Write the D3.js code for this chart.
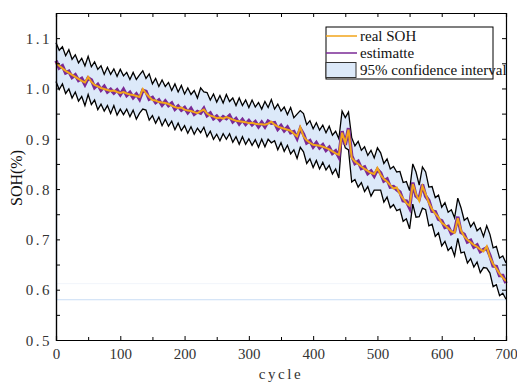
<!DOCTYPE html>
<html><head><meta charset="utf-8">
<script src="https://cdn.jsdelivr.net/npm/d3@7/dist/d3.min.js"></script>
<style>body{margin:0;background:#fff}svg{display:block}</style>
</head><body><svg id="c" width="517" height="383"></svg>
<script>
const cycles = d3.range(0, 701, 5);
const realSOH = [1.051,1.045,1.040,1.035,1.031,1.027,1.023,1.019,1.015,1.012,1.023,1.013,1.007,1.004,1.001,0.999,0.997,0.995,0.996,0.993,
0.991,0.993,0.990,0.988,0.987,0.985,0.983,0.999,0.990,0.983,0.977,0.976,0.973,0.972,0.971,0.969,0.966,0.963,0.961,0.962,
0.958,0.956,0.955,0.953,0.951,0.955,0.958,0.950,0.946,0.944,0.941,0.942,0.940,0.943,0.941,0.938,0.936,0.935,0.934,0.933,
0.931,0.932,0.930,0.929,0.929,0.928,0.930,0.934,0.928,0.924,0.922,0.920,0.918,0.916,0.910,0.905,0.923,0.905,0.897,0.892,
0.888,0.887,0.886,0.884,0.882,0.879,0.875,0.871,0.868,0.912,0.892,0.918,0.862,0.855,0.850,0.845,0.840,0.836,0.832,0.830,
0.842,0.828,0.820,0.815,0.808,0.801,0.803,0.790,0.781,0.772,0.767,0.810,0.790,0.777,0.806,0.790,0.773,0.760,0.751,0.744,
0.733,0.728,0.722,0.716,0.713,0.742,0.718,0.706,0.699,0.694,0.689,0.685,0.680,0.676,0.686,0.664,0.651,0.642,0.632,0.624,0.617];
const estimate = [1.055,1.041,1.045,1.031,1.034,1.022,1.027,1.016,1.020,1.008,1.021,1.017,1.002,1.008,0.997,1.004,0.993,0.998,0.991,0.997,
0.988,0.998,0.986,0.992,0.982,0.989,0.979,0.996,0.994,0.979,0.982,0.972,0.977,0.967,0.975,0.966,0.971,0.959,0.965,0.957,
0.962,0.952,0.960,0.949,0.954,0.951,0.960,0.946,0.951,0.940,0.945,0.937,0.944,0.940,0.946,0.934,0.940,0.930,0.938,0.929,
0.936,0.928,0.934,0.924,0.933,0.924,0.935,0.931,0.932,0.919,0.926,0.916,0.923,0.912,0.914,0.901,0.920,0.909,0.892,0.896,
0.884,0.892,0.882,0.888,0.877,0.883,0.871,0.876,0.864,0.915,0.888,0.921,0.866,0.851,0.855,0.841,0.844,0.831,0.836,0.826,
0.839,0.832,0.816,0.820,0.804,0.805,0.799,0.794,0.777,0.776,0.763,0.813,0.786,0.781,0.809,0.786,0.777,0.756,0.755,0.740,
0.737,0.724,0.726,0.712,0.716,0.745,0.714,0.710,0.695,0.698,0.685,0.689,0.676,0.680,0.683,0.668,0.647,0.646,0.628,0.628,0.613];
const upper = [1.091,1.076,1.083,1.065,1.077,1.058,1.067,1.051,1.060,1.045,1.064,1.043,1.053,1.038,1.045,1.028,1.042,1.028,1.039,1.024,
1.038,1.025,1.032,1.018,1.032,1.018,1.027,1.035,1.020,1.029,1.009,1.020,1.004,1.017,1.004,1.012,0.996,1.009,0.993,1.006,
0.989,1.001,0.988,0.996,0.981,1.001,0.993,0.992,0.977,0.989,0.973,0.986,0.971,0.988,0.974,0.981,0.966,0.981,0.966,0.977,
0.962,0.977,0.963,0.972,0.959,0.974,0.962,0.978,0.959,0.969,0.955,0.963,0.948,0.962,0.942,0.949,0.956,0.950,0.928,0.936,
0.920,0.932,0.917,0.927,0.912,0.925,0.907,0.915,0.900,0.955,0.942,0.953,0.902,0.886,0.895,0.877,0.884,0.867,0.877,0.862,
0.882,0.872,0.851,0.860,0.840,0.845,0.834,0.835,0.813,0.815,0.797,0.850,0.834,0.808,0.844,0.834,0.804,0.805,0.783,0.788,
0.764,0.773,0.754,0.759,0.743,0.782,0.763,0.738,0.743,0.725,0.734,0.717,0.723,0.706,0.727,0.710,0.683,0.686,0.663,0.667,0.653];
const lower = [1.014,0.998,1.009,0.990,0.999,0.981,0.993,0.975,0.984,0.966,0.988,0.968,0.977,0.958,0.969,0.955,0.966,0.950,0.966,0.947,
0.959,0.948,0.959,0.944,0.957,0.939,0.951,0.959,0.957,0.937,0.946,0.931,0.943,0.926,0.939,0.925,0.935,0.918,0.931,0.916,
0.926,0.911,0.924,0.909,0.921,0.912,0.923,0.904,0.915,0.899,0.909,0.896,0.910,0.899,0.910,0.893,0.904,0.889,0.904,0.889,
0.900,0.887,0.898,0.883,0.899,0.884,0.899,0.892,0.896,0.878,0.892,0.875,0.887,0.870,0.878,0.861,0.883,0.874,0.851,0.860,
0.843,0.857,0.840,0.853,0.838,0.847,0.830,0.840,0.822,0.905,0.882,0.878,0.814,0.819,0.804,0.813,0.795,0.805,0.786,0.798,
0.798,0.798,0.774,0.784,0.763,0.769,0.757,0.760,0.736,0.741,0.721,0.770,0.744,0.745,0.762,0.759,0.727,0.730,0.706,0.713,
0.687,0.696,0.678,0.685,0.667,0.702,0.673,0.675,0.653,0.662,0.645,0.655,0.634,0.644,0.643,0.633,0.606,0.610,0.588,0.593,0.581];
const xTicks = [0,100,200,300,400,500,600,700];
const yTicks = [0.5,0.6,0.7,0.8,0.9,1.0,1.1];
const yTickLabels = ["0.5","0.6","0.7","0.8","0.9","1.0","1.1"];
const bandEdgeLevels = [0.58, 0.612];
const legendLabels = ["real SOH","estimatte","95% confidence interval"];

const svg = d3.select("#c");
const x = d3.scaleLinear().domain([0,700]).range([56,506]);
const y = d3.scaleLinear().domain([0.5,1.15]).range([340,13]);
const ORANGE = "#f2a51a", PURPLE = "#7a2a96", BAND = "#dce9f9";

const pts = cycles.map((c,i)=>({c, r:realSOH[i], e:estimate[i], u:upper[i], l:lower[i]}));

svg.append("path").datum(pts)
  .attr("d", d3.area().x(d=>x(d.c)).y0(d=>y(d.l)).y1(d=>y(d.u)))
  .attr("fill", BAND);
svg.selectAll(".edge").data(bandEdgeLevels).enter().append("line")
  .attr("x1", x(0)).attr("x2", x(700)).attr("y1", d=>y(d)).attr("y2", d=>y(d))
  .attr("stroke", (d,i)=> i===0 ? "#c9ddf5" : "#f1f5fb").attr("stroke-width", 1);
svg.append("line").attr("x1", x(0)+0.5).attr("x2", x(0)+0.5)
  .attr("y1", y(bandEdgeLevels[0])).attr("y2", y(upper[0]))
  .attr("stroke", "#c3d4ea").attr("stroke-width", 1.5);

const line = k => d3.line().x(d=>x(d.c)).y(d=>y(d[k]));
svg.append("path").datum(pts).attr("d", line("u")).attr("fill","none").attr("stroke","#000").attr("stroke-width",1.3);
svg.append("path").datum(pts).attr("d", line("l")).attr("fill","none").attr("stroke","#000").attr("stroke-width",1.3);
svg.append("path").datum(pts).attr("d", line("e")).attr("fill","none").attr("stroke",PURPLE).attr("stroke-width",3.5);
svg.append("path").datum(pts).attr("d", line("r")).attr("fill","none").attr("stroke",ORANGE).attr("stroke-width",2);

const gB = svg.append("g").attr("transform","translate(0,340)");
gB.call(d3.axisBottom(x).tickValues(d3.range(0,701,50)).tickSize(-4).tickFormat(""));
gB.call(g=>g.selectAll(".tick line").attr("y2", d=> d%100===0 ? -4 : -3));
const gBl = svg.append("g").attr("transform","translate(0,340)");
gBl.call(d3.axisBottom(x).tickValues(xTicks).tickSize(0).tickPadding(8));
const gT = svg.append("g").attr("transform","translate(0,13)");
gT.call(d3.axisTop(x).tickValues(d3.range(0,701,50)).tickSize(-4).tickFormat(""));
const gL = svg.append("g").attr("transform","translate(56,0)");
gL.call(d3.axisLeft(y).tickValues(d3.range(0.5,1.151,0.05)).tickSize(-4).tickFormat(""));
const gLl = svg.append("g").attr("transform","translate(56,0)");
gLl.call(d3.axisLeft(y).tickValues(yTicks).tickSize(0).tickPadding(4).tickFormat((d,i)=>yTickLabels[i]));
const gR = svg.append("g").attr("transform","translate(506,0)");
gR.call(d3.axisRight(y).tickValues(d3.range(0.5,1.151,0.05)).tickSize(-4).tickFormat(""));
svg.selectAll(".domain").attr("stroke","#000").attr("stroke-width",1.2);
svg.selectAll(".tick line").attr("stroke","#000");
gBl.selectAll("text").attr("font-family","Liberation Serif, serif").attr("font-size",15).attr("fill","#333");
gLl.selectAll("text").attr("font-family","Liberation Serif, serif").attr("font-size",15).attr("fill","#333")
   .attr("letter-spacing","2.5px").attr("dy","0.35em");

svg.append("text").attr("x",281).attr("y",379).attr("text-anchor","middle")
  .attr("font-family","Liberation Serif, serif").attr("font-size",15).attr("letter-spacing","2.6px").attr("fill","#333").text("cycle");
svg.append("text").attr("transform","translate(22,178) rotate(-90)").attr("text-anchor","middle")
  .attr("font-family","Liberation Serif, serif").attr("font-size",16).attr("fill","#111").text("SOH(%)");

const lg = svg.append("g");
lg.append("rect").attr("x",326).attr("y",27).attr("width",167).attr("height",52)
  .attr("fill","#fff").attr("stroke","#000").attr("stroke-width",1);
const rows = [36, 53, 70];
lg.append("line").attr("x1",326).attr("x2",357).attr("y1",rows[0]).attr("y2",rows[0]).attr("stroke",ORANGE).attr("stroke-width",1.5);
lg.append("line").attr("x1",326).attr("x2",357).attr("y1",rows[1]).attr("y2",rows[1]).attr("stroke",PURPLE).attr("stroke-width",1.5);
lg.append("rect").attr("x",326).attr("y",62.5).attr("width",30).attr("height",15)
  .attr("fill",BAND).attr("stroke","#333").attr("stroke-width",1);
lg.selectAll(".lt").data(legendLabels).enter().append("text")
  .attr("x",360).attr("y",(d,i)=>rows[i]+5).attr("font-family","Liberation Serif, serif")
  .attr("font-size",15).attr("fill","#111").text(d=>d);
</script></body></html>
